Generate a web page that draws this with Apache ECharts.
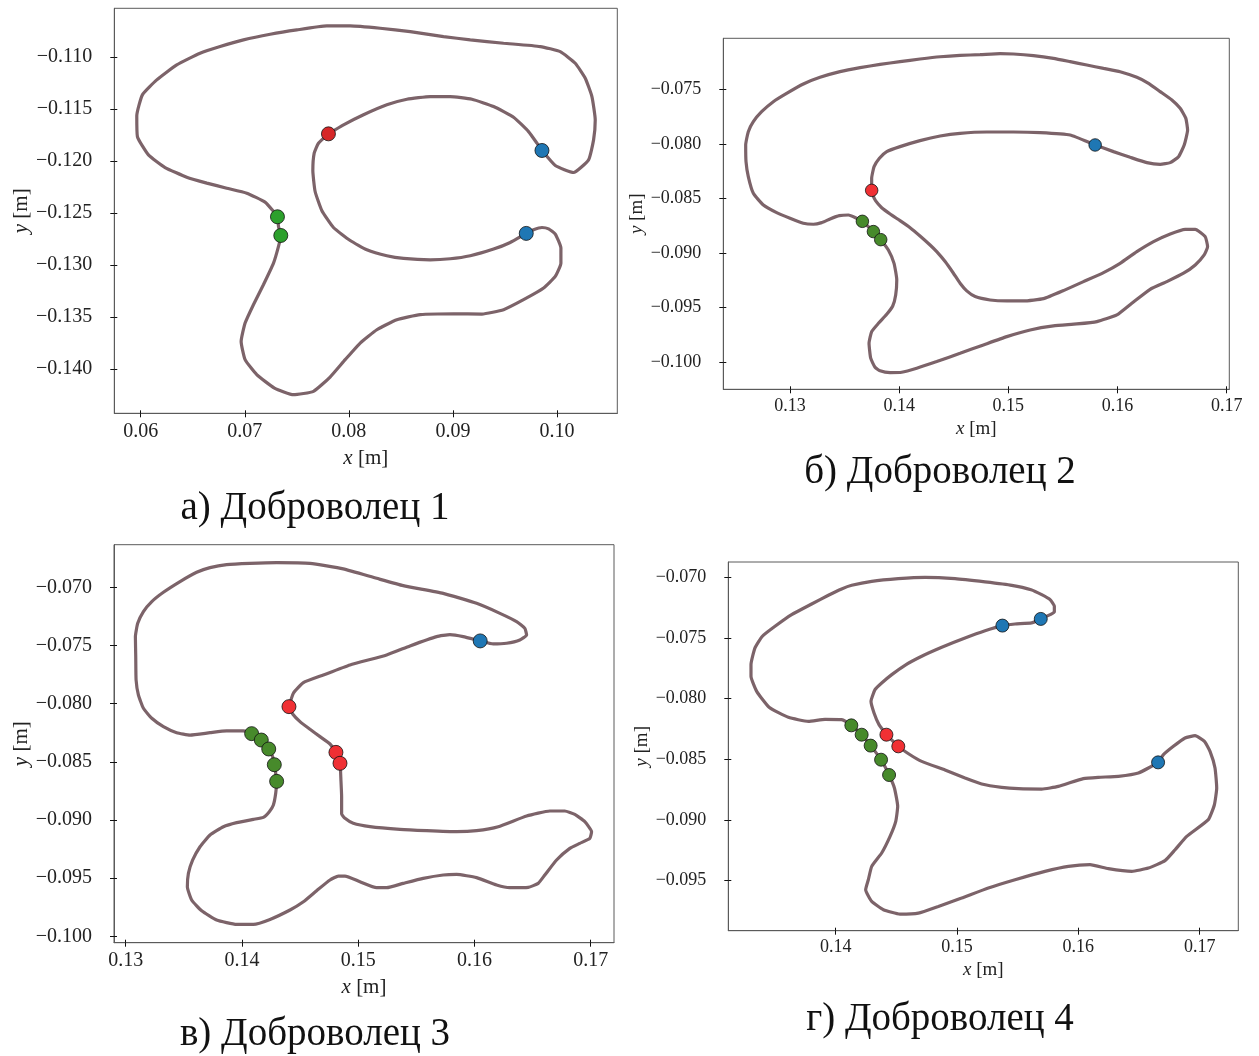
<!DOCTYPE html>
<html>
<head>
<meta charset="utf-8">
<title>Траектории добровольцев</title>
<script src="https://cdn.jsdelivr.net/npm/echarts@6/dist/echarts.min.js"></script>
<style>
  html, body { margin: 0; padding: 0; background: #fff; }
  #chart { width: 1259px; height: 1056px; }
</style>
</head>
<body>
<div id="chart"></div>
<script>
// Trajectory points [x, y] in metres, one closed loop per volunteer
const pathA = [[0.07804,-0.11737],[0.07949,-0.11651],[0.08141,-0.11554],[0.08365,-0.11458],[0.08558,-0.11404],[0.08782,-0.11378],[0.08974,-0.11378],[0.09183,-0.11404],[0.09391,-0.11474],[0.09583,-0.11577],[0.09727,-0.11715],[0.09808,-0.11827],[0.09856,-0.11897],[0.09984,-0.12042],[0.10160,-0.12109],[0.10304,-0.11987],[0.10352,-0.11795],[0.10368,-0.11603],[0.10336,-0.11378],[0.10272,-0.11202],[0.10176,-0.11058],[0.10032,-0.10946],[0.09840,-0.10897],[0.09487,-0.10865],[0.09167,-0.10833],[0.08910,-0.10801],[0.08590,-0.10753],[0.08301,-0.10721],[0.08013,-0.10699],[0.07788,-0.10699],[0.07500,-0.10737],[0.07244,-0.10779],[0.06987,-0.10833],[0.06763,-0.10897],[0.06570,-0.10962],[0.06346,-0.11074],[0.06154,-0.11218],[0.06016,-0.11362],[0.05962,-0.11564],[0.05968,-0.11763],[0.06074,-0.11939],[0.06234,-0.12061],[0.06442,-0.12154],[0.06635,-0.12211],[0.06827,-0.12260],[0.07019,-0.12308],[0.07195,-0.12394],[0.07276,-0.12484],[0.07314,-0.12535],[0.07324,-0.12628],[0.07346,-0.12715],[0.07324,-0.12820],[0.07276,-0.12981],[0.07179,-0.13189],[0.07083,-0.13381],[0.07003,-0.13558],[0.06965,-0.13734],[0.07003,-0.13910],[0.07115,-0.14054],[0.07285,-0.14183],[0.07468,-0.14247],[0.07660,-0.14215],[0.07820,-0.14077],[0.07965,-0.13910],[0.08109,-0.13750],[0.08269,-0.13622],[0.08461,-0.13526],[0.08686,-0.13477],[0.09006,-0.13468],[0.09279,-0.13471],[0.09487,-0.13429],[0.09679,-0.13333],[0.09872,-0.13221],[0.09984,-0.13109],[0.10038,-0.12981],[0.10038,-0.12836],[0.09984,-0.12702],[0.09920,-0.12651],[0.09856,-0.12638],[0.09775,-0.12660],[0.09705,-0.12695],[0.09551,-0.12782],[0.09391,-0.12846],[0.09167,-0.12910],[0.08974,-0.12939],[0.08782,-0.12949],[0.08526,-0.12936],[0.08365,-0.12910],[0.08173,-0.12852],[0.08013,-0.12763],[0.07852,-0.12638],[0.07740,-0.12474],[0.07676,-0.12292],[0.07654,-0.12090],[0.07667,-0.11923],[0.07708,-0.11827]];
const pathB = [[0.13748,-0.08426],[0.13748,-0.08316],[0.13770,-0.08209],[0.13819,-0.08132],[0.13886,-0.08071],[0.14008,-0.08025],[0.14191,-0.07970],[0.14375,-0.07928],[0.14558,-0.07903],[0.14802,-0.07891],[0.15047,-0.07891],[0.15291,-0.07897],[0.15566,-0.07919],[0.15795,-0.08010],[0.15963,-0.08071],[0.16116,-0.08123],[0.16269,-0.08172],[0.16391,-0.08187],[0.16483,-0.08172],[0.16559,-0.08117],[0.16611,-0.08010],[0.16642,-0.07873],[0.16626,-0.07766],[0.16574,-0.07674],[0.16498,-0.07598],[0.16391,-0.07521],[0.16284,-0.07445],[0.16177,-0.07390],[0.16024,-0.07338],[0.15872,-0.07308],[0.15719,-0.07277],[0.15566,-0.07246],[0.15413,-0.07216],[0.15230,-0.07191],[0.15047,-0.07176],[0.14925,-0.07173],[0.14741,-0.07182],[0.14558,-0.07188],[0.14375,-0.07201],[0.14191,-0.07222],[0.14008,-0.07246],[0.13825,-0.07271],[0.13642,-0.07301],[0.13458,-0.07338],[0.13275,-0.07390],[0.13122,-0.07451],[0.12969,-0.07537],[0.12847,-0.07613],[0.12740,-0.07705],[0.12664,-0.07796],[0.12618,-0.07888],[0.12594,-0.08010],[0.12597,-0.08163],[0.12618,-0.08300],[0.12664,-0.08453],[0.12756,-0.08560],[0.12878,-0.08630],[0.13000,-0.08682],[0.13122,-0.08728],[0.13214,-0.08737],[0.13290,-0.08722],[0.13367,-0.08688],[0.13452,-0.08658],[0.13535,-0.08652],[0.13663,-0.08710],[0.13764,-0.08804],[0.13831,-0.08878],[0.13901,-0.08973],[0.13953,-0.09095],[0.13978,-0.09247],[0.13968,-0.09385],[0.13941,-0.09486],[0.13886,-0.09562],[0.13810,-0.09645],[0.13748,-0.09721],[0.13724,-0.09828],[0.13739,-0.09965],[0.13779,-0.10048],[0.13825,-0.10081],[0.13917,-0.10097],[0.14023,-0.10094],[0.14161,-0.10057],[0.14344,-0.09996],[0.14558,-0.09920],[0.14772,-0.09843],[0.14986,-0.09767],[0.15200,-0.09706],[0.15413,-0.09669],[0.15627,-0.09651],[0.15811,-0.09629],[0.15994,-0.09568],[0.16131,-0.09461],[0.16299,-0.09333],[0.16452,-0.09263],[0.16605,-0.09186],[0.16712,-0.09110],[0.16794,-0.09018],[0.16825,-0.08942],[0.16803,-0.08850],[0.16712,-0.08783],[0.16620,-0.08783],[0.16483,-0.08826],[0.16330,-0.08896],[0.16177,-0.08988],[0.16024,-0.09095],[0.15872,-0.09180],[0.15688,-0.09263],[0.15505,-0.09345],[0.15322,-0.09419],[0.15139,-0.09440],[0.14986,-0.09440],[0.14833,-0.09431],[0.14696,-0.09400],[0.14619,-0.09348],[0.14558,-0.09278],[0.14497,-0.09186],[0.14421,-0.09079],[0.14344,-0.08988],[0.14283,-0.08927],[0.14191,-0.08844],[0.14100,-0.08768],[0.14008,-0.08704],[0.13917,-0.08643],[0.13840,-0.08585],[0.13785,-0.08523],[0.13758,-0.08468]];
const pathC = [[0.14404,-0.08026],[0.14442,-0.07911],[0.14528,-0.07820],[0.14700,-0.07754],[0.14929,-0.07668],[0.15244,-0.07582],[0.15445,-0.07504],[0.15674,-0.07424],[0.15789,-0.07407],[0.15903,-0.07424],[0.16049,-0.07461],[0.16161,-0.07487],[0.16276,-0.07481],[0.16390,-0.07453],[0.16448,-0.07410],[0.16433,-0.07353],[0.16362,-0.07295],[0.16219,-0.07224],[0.16018,-0.07138],[0.15731,-0.07052],[0.15387,-0.06986],[0.15158,-0.06923],[0.14871,-0.06842],[0.14585,-0.06794],[0.14298,-0.06788],[0.14069,-0.06794],[0.13868,-0.06805],[0.13725,-0.06831],[0.13610,-0.06871],[0.13467,-0.06951],[0.13324,-0.07043],[0.13224,-0.07123],[0.13152,-0.07209],[0.13103,-0.07310],[0.13083,-0.07424],[0.13086,-0.07596],[0.13089,-0.07797],[0.13109,-0.07926],[0.13152,-0.08040],[0.13224,-0.08126],[0.13324,-0.08198],[0.13438,-0.08250],[0.13553,-0.08270],[0.13725,-0.08250],[0.13868,-0.08235],[0.14012,-0.08235],[0.14083,-0.08258],[0.14166,-0.08313],[0.14230,-0.08390],[0.14264,-0.08456],[0.14278,-0.08525],[0.14290,-0.08599],[0.14298,-0.08668],[0.14290,-0.08771],[0.14270,-0.08871],[0.14235,-0.08929],[0.14184,-0.08978],[0.14098,-0.08995],[0.13954,-0.09023],[0.13840,-0.09058],[0.13725,-0.09129],[0.13639,-0.09230],[0.13576,-0.09344],[0.13539,-0.09459],[0.13530,-0.09574],[0.13567,-0.09688],[0.13653,-0.09780],[0.13782,-0.09860],[0.13954,-0.09898],[0.14098,-0.09898],[0.14241,-0.09855],[0.14413,-0.09774],[0.14528,-0.09703],[0.14642,-0.09608],[0.14757,-0.09516],[0.14828,-0.09482],[0.14886,-0.09482],[0.15015,-0.09531],[0.15158,-0.09582],[0.15244,-0.09582],[0.15387,-0.09545],[0.15559,-0.09502],[0.15731,-0.09473],[0.15846,-0.09468],[0.16018,-0.09496],[0.16190,-0.09559],[0.16304,-0.09582],[0.16462,-0.09579],[0.16548,-0.09545],[0.16605,-0.09473],[0.16706,-0.09344],[0.16820,-0.09244],[0.16906,-0.09201],[0.16992,-0.09158],[0.17007,-0.09101],[0.16949,-0.09015],[0.16863,-0.08952],[0.16777,-0.08923],[0.16648,-0.08923],[0.16448,-0.08966],[0.16204,-0.09058],[0.16018,-0.09092],[0.15846,-0.09101],[0.15588,-0.09092],[0.15359,-0.09081],[0.15101,-0.09058],[0.14957,-0.09029],[0.14886,-0.08986],[0.14857,-0.08949],[0.14857,-0.08800],[0.14851,-0.08657],[0.14843,-0.08513],[0.14808,-0.08419],[0.14757,-0.08347],[0.14671,-0.08284],[0.14585,-0.08221],[0.14499,-0.08155],[0.14436,-0.08089]];
const pathD = [[0.14418,-0.08297],[0.14357,-0.08214],[0.14316,-0.08118],[0.14291,-0.08022],[0.14324,-0.07926],[0.14379,-0.07871],[0.14462,-0.07802],[0.14571,-0.07725],[0.14709,-0.07651],[0.14874,-0.07577],[0.15066,-0.07500],[0.15231,-0.07440],[0.15374,-0.07398],[0.15478,-0.07385],[0.15615,-0.07376],[0.15690,-0.07343],[0.15767,-0.07308],[0.15802,-0.07286],[0.15802,-0.07239],[0.15767,-0.07184],[0.15698,-0.07143],[0.15610,-0.07102],[0.15451,-0.07066],[0.15231,-0.07038],[0.14984,-0.07011],[0.14736,-0.07000],[0.14516,-0.07011],[0.14297,-0.07033],[0.14132,-0.07066],[0.14049,-0.07096],[0.13940,-0.07148],[0.13802,-0.07220],[0.13637,-0.07308],[0.13500,-0.07404],[0.13396,-0.07486],[0.13335,-0.07582],[0.13302,-0.07720],[0.13302,-0.07816],[0.13349,-0.07940],[0.13451,-0.08071],[0.13610,-0.08154],[0.13775,-0.08187],[0.13912,-0.08170],[0.14049,-0.08173],[0.14129,-0.08220],[0.14214,-0.08297],[0.14288,-0.08387],[0.14374,-0.08503],[0.14440,-0.08629],[0.14484,-0.08736],[0.14511,-0.08887],[0.14495,-0.09011],[0.14448,-0.09135],[0.14379,-0.09272],[0.14297,-0.09382],[0.14269,-0.09492],[0.14247,-0.09574],[0.14297,-0.09670],[0.14393,-0.09739],[0.14530,-0.09775],[0.14681,-0.09767],[0.14846,-0.09712],[0.15038,-0.09643],[0.15258,-0.09560],[0.15478,-0.09492],[0.15725,-0.09423],[0.15918,-0.09382],[0.16096,-0.09368],[0.16247,-0.09401],[0.16440,-0.09423],[0.16577,-0.09396],[0.16714,-0.09335],[0.16797,-0.09245],[0.16893,-0.09135],[0.17071,-0.08997],[0.17121,-0.08874],[0.17140,-0.08736],[0.17126,-0.08571],[0.17085,-0.08434],[0.17039,-0.08352],[0.16962,-0.08305],[0.16879,-0.08324],[0.16783,-0.08393],[0.16701,-0.08462],[0.16657,-0.08525],[0.16495,-0.08613],[0.16330,-0.08640],[0.16165,-0.08648],[0.16041,-0.08659],[0.15835,-0.08723],[0.15698,-0.08745],[0.15506,-0.08742],[0.15368,-0.08731],[0.15203,-0.08703],[0.15066,-0.08654],[0.14901,-0.08588],[0.14709,-0.08517],[0.14613,-0.08462],[0.14516,-0.08393]];

// Marked positions on each loop
const redA = [[0.07804,-0.11737]];
const blueA = [[0.09856,-0.11897],[0.09705,-0.12695]];
const greenA = [[0.07314,-0.12535],[0.07346,-0.12715]];

const redB = [[0.13748,-0.08426]];
const blueB = [[0.15795,-0.08010]];
const greenB = [[0.13663,-0.08710],[0.13764,-0.08804],[0.13831,-0.08878]];

const redC = [[0.14404,-0.08026],[0.14808,-0.08419],[0.14843,-0.08513]];
const blueC = [[0.16049,-0.07461]];
const greenC = [[0.14083,-0.08258],[0.14166,-0.08313],[0.14230,-0.08390],[0.14278,-0.08525],[0.14298,-0.08668]];

const redD = [[0.14418,-0.08297],[0.14516,-0.08393]];
const blueD = [[0.15374,-0.07398],[0.15690,-0.07343],[0.16657,-0.08525]];
const greenD = [[0.14129,-0.08220],[0.14214,-0.08297],[0.14288,-0.08387],[0.14374,-0.08503],[0.14440,-0.08629]];

// Tick positions
const xTicksA = [0.06, 0.07, 0.08, 0.09, 0.10];
const yTicksA = [-0.110, -0.115, -0.120, -0.125, -0.130, -0.135, -0.140];
const xTicksB = [0.13, 0.14, 0.15, 0.16, 0.17];
const yTicksB = [-0.075, -0.080, -0.085, -0.090, -0.095, -0.100];
const xTicksC = [0.13, 0.14, 0.15, 0.16, 0.17];
const yTicksC = [-0.070, -0.075, -0.080, -0.085, -0.090, -0.095, -0.100];
const xTicksD = [0.14, 0.15, 0.16, 0.17];
const yTicksD = [-0.070, -0.075, -0.080, -0.085, -0.090, -0.095];

const titles = ['а) Доброволец 1', 'б) Доброволец 2', 'в) Доброволец 3', 'г) Доброволец 4'];

const FONT = '"Liberation Serif", "DejaVu Serif", serif';
const LINE_COLOR = '#7c6369';
const BLUE = '#1f77b4';

const panels = [
  { path: pathA, red: redA, blue: blueA, green: greenA, xt: xTicksA, yt: yTicksA,
    box: [114.3, 8.3, 503, 405], xr: [0.05746, 0.10580], yr: [-0.14426, -0.10529],
    redColor: '#d62728', greenColor: '#2ca02c', mark: 14, fs: 20, nfs: 21,
    xGap: 35, yGap: 82, title: [315, 509] },
  { path: pathB, red: redB, blue: blueB, green: greenB, xt: xTicksB, yt: yTicksB,
    box: [723.3, 38.3, 506, 351], xr: [0.12389, 0.17024], yr: [-0.10250, -0.07032],
    redColor: '#f03034', greenColor: '#478a2b', mark: 12.5, fs: 18, nfs: 19,
    xGap: 30, yGap: 70, title: [940, 473] },
  { path: pathC, red: redC, blue: blueC, green: greenC, xt: xTicksC, yt: yTicksC,
    box: [114, 544.7, 500, 398], xr: [0.12899, 0.17200], yr: [-0.10055, -0.06634],
    redColor: '#f03034', greenColor: '#478a2b', mark: 14, fs: 20, nfs: 21,
    xGap: 34, yGap: 82, title: [315, 1035] },
  { path: pathD, red: redD, blue: blueD, green: greenD, xt: xTicksD, yt: yTicksD,
    box: [728.3, 562, 510, 368.7], xr: [0.13115, 0.17318], yr: [-0.09912, -0.06874],
    redColor: '#f03034', greenColor: '#478a2b', mark: 13, fs: 18, nfs: 19,
    xGap: 30, yGap: 73, title: [940, 1020] }
];

const fmtX = v => v.toFixed(2);
const fmtY = v => v.toFixed(3).replace('-', '\u2212');

const grid = [], xAxis = [], yAxis = [], series = [], graphic = [];

panels.forEach((p, i) => {
  grid.push({ left: p.box[0], top: p.box[1], width: p.box[2], height: p.box[3],
    show: true, borderColor: '#5a5a5a', borderWidth: 1, backgroundColor: '#fff' });

  const nameStyle = {
    fontFamily: FONT, fontSize: p.nfs, color: '#222',
    rich: { i: { fontFamily: FONT, fontStyle: 'italic', fontSize: p.nfs, color: '#222' } }
  };
  const labelStyle = { fontFamily: FONT, fontSize: p.fs, color: '#222' };

  // main axes: outward ticks with labels
  xAxis.push({ type: 'value', gridIndex: i, min: p.xr[0], max: p.xr[1], position: 'bottom',
    splitLine: { show: false },
    axisLine: { show: true, lineStyle: { color: '#5a5a5a', width: 1 } },
    axisTick: { show: true, length: 4, customValues: p.xt, lineStyle: { color: '#111', width: 1 } },
    axisLabel: Object.assign({ customValues: p.xt, formatter: fmtX, margin: 8 }, labelStyle),
    name: '{i|x} [m]', nameLocation: 'middle', nameGap: p.xGap, nameTextStyle: nameStyle });
  yAxis.push({ type: 'value', gridIndex: i, min: p.yr[0], max: p.yr[1], position: 'left',
    splitLine: { show: false },
    axisLine: { show: true, lineStyle: { color: '#5a5a5a', width: 1 } },
    axisTick: { show: true, length: 4, customValues: p.yt, lineStyle: { color: '#111', width: 1 } },
    axisLabel: Object.assign({ customValues: p.yt, formatter: fmtY, margin: 22 }, labelStyle),
    name: '{i|y} [m]', nameLocation: 'middle', nameGap: p.yGap, nameRotate: 90, nameTextStyle: nameStyle });

  // companion axes: the inner half of each tick
  xAxis.push({ type: 'value', gridIndex: i, min: p.xr[0], max: p.xr[1], position: 'bottom',
    splitLine: { show: false }, axisLine: { show: false }, axisLabel: { show: false },
    axisTick: { show: true, inside: true, length: 3, customValues: p.xt, lineStyle: { color: '#111', width: 1 } } });
  yAxis.push({ type: 'value', gridIndex: i, min: p.yr[0], max: p.yr[1], position: 'left',
    splitLine: { show: false }, axisLine: { show: false }, axisLabel: { show: false },
    axisTick: { show: true, inside: true, length: 3, customValues: p.yt, lineStyle: { color: '#111', width: 1 } } });

  const ax = 2 * i;
  series.push({ type: 'line', xAxisIndex: ax, yAxisIndex: ax,
    data: p.path.concat([p.path[0]]), showSymbol: false, smooth: 0.15,
    lineStyle: { color: LINE_COLOR, width: 3.2 }, z: 2, silent: true, animation: false });

  [[p.green, p.greenColor], [p.blue, BLUE], [p.red, p.redColor]].forEach(([pts, col]) => {
    series.push({ type: 'scatter', xAxisIndex: ax, yAxisIndex: ax, data: pts,
      symbol: 'circle', symbolSize: p.mark, z: 5, silent: true, animation: false,
      itemStyle: { color: col, borderColor: '#111', borderWidth: 0.8, opacity: 1 } });
  });

  graphic.push({ type: 'text', x: p.title[0], y: p.title[1],
    style: { text: titles[i], font: '39px ' + FONT, fill: '#111',
      textAlign: 'center', textVerticalAlign: 'middle', align: 'center', verticalAlign: 'middle' } });
});

const chart = echarts.init(document.getElementById('chart'), null, { renderer: 'canvas' });
chart.setOption({ animation: false, backgroundColor: '#fff', grid, xAxis, yAxis, series, graphic });
</script>
</body>
</html>
